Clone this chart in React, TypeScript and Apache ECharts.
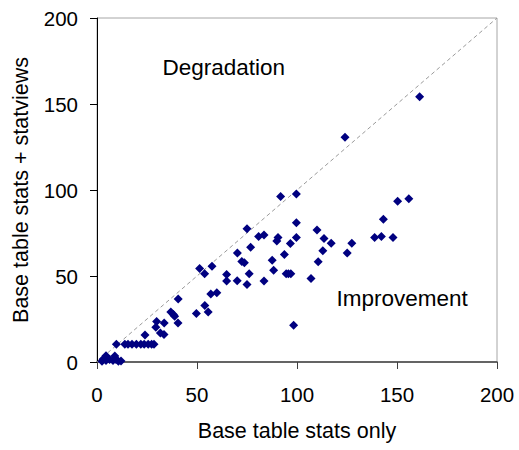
import React, { useEffect, useRef } from "react";
import * as echarts from "echarts";

// Query cost with base table statistics only (x) versus with statviews added (y)
const baseOnly = [
  161.3, 124.0, 91.8, 99.7, 150.3, 155.9, 99.7, 143.2, 75.0, 110.0,
  80.8, 83.5, 90.5, 89.9, 99.7, 96.7, 113.5, 117.1, 112.9, 127.4,
  125.1, 138.8, 142.2, 148.0, 76.8, 70.2, 72.4, 73.7, 87.6, 93.7,
  110.6, 88.3, 64.8, 76.1, 94.6, 95.7, 96.9, 51.3, 53.8, 57.5,
  64.8, 70.1, 75.0, 83.5, 107.0, 56.9, 59.9, 40.6, 53.9, 55.6,
  49.7, 36.9, 38.2, 38.8, 40.5, 33.6, 29.8, 29.4, 31.7, 33.5,
  24.0, 98.3, 9.7, 13.9, 15.5, 17.5, 19.7, 21.9, 23.6, 25.6,
  27.3, 28.5, 2.5, 3.0, 4.5, 4.5, 6.3, 8.0, 8.9, 9.5,
  10.7, 12.0,
];
const withStatviews = [
  154.2, 130.6, 96.2, 97.7, 93.5, 94.9, 81.0, 83.0, 77.4, 76.7,
  73.0, 73.8, 72.4, 70.4, 72.4, 68.9, 71.8, 69.0, 64.7, 69.0,
  63.3, 72.4, 72.9, 72.4, 66.7, 63.3, 58.4, 57.7, 59.2, 62.5,
  58.3, 53.4, 50.8, 51.3, 51.3, 51.3, 51.3, 54.3, 51.3, 55.6,
  47.1, 47.2, 45.1, 47.1, 48.5, 39.5, 40.2, 36.6, 32.9, 29.0,
  28.2, 29.0, 27.6, 26.6, 22.7, 22.7, 23.6, 20.2, 16.9, 16.0,
  15.7, 21.3, 10.3, 10.3, 10.3, 10.3, 10.3, 10.3, 10.3, 10.3,
  10.3, 10.3, 0.5, 1.6, 3.6, 0.8, 1.5, 0.8, 3.5, 1.5,
  0.5, 0.6,
];

// Reference line y = x
const parityLine = [0, 200];

// Region annotations
const noteNames = ["Degradation", "Improvement"];
const noteX = [63.4, 152.6];
const noteY = [171, 37.2];

const axisTicks = { min: 0, max: 200, interval: 50 };
const FONT = 'Arial, "Liberation Sans", sans-serif';

export default function App() {
  const ref = useRef<HTMLDivElement>(null);

  useEffect(() => {
    if (!ref.current) return;
    const chart = echarts.init(ref.current, null, { renderer: "svg" });
    chart.setOption({
      animation: false,
      backgroundColor: "#ffffff",
      grid: {
        left: 97,
        right: 22,
        top: 18,
        bottom: 88,
        show: true,
        borderColor: "#a6a6a6",
        borderWidth: 1,
      },
      xAxis: {
        type: "value",
        ...axisTicks,
        name: "Base table stats only",
        nameLocation: "middle",
        nameGap: 58,
        nameTextStyle: { fontFamily: FONT, fontSize: 21.5, color: "#000" },
        axisLine: { show: true, lineStyle: { color: "#404040", width: 1.5 } },
        axisTick: { show: true, length: 7, lineStyle: { color: "#404040" } },
        axisLabel: { fontFamily: FONT, fontSize: 20.5, color: "#000", margin: 22 },
        splitLine: { show: false },
      },
      yAxis: {
        type: "value",
        ...axisTicks,
        name: "Base table stats + statviews",
        nameLocation: "middle",
        nameRotate: 90,
        nameGap: 65,
        nameTextStyle: { fontFamily: FONT, fontSize: 21.5, color: "#000" },
        axisLine: { show: true, lineStyle: { color: "#000", width: 1 } },
        axisTick: { show: true, length: 7, lineStyle: { color: "#000" } },
        axisLabel: { fontFamily: FONT, fontSize: 20.5, color: "#000", margin: 19 },
        splitLine: { show: false },
      },
      series: [
        {
          type: "line",
          data: parityLine.map((v) => [v, v]),
          symbol: "none",
          silent: true,
          lineStyle: { color: "#9a9a9a", width: 1, type: [4, 3] },
          z: 1,
        },
        {
          type: "scatter",
          data: baseOnly.map((x, i) => [x, withStatviews[i]]),
          symbol: "diamond",
          symbolSize: 9,
          itemStyle: { color: "#000080", opacity: 1 },
          z: 3,
        },
        {
          type: "scatter",
          data: noteNames.map((n, i) => ({ name: n, value: [noteX[i], noteY[i]] })),
          symbolSize: 0,
          silent: true,
          label: {
            show: true,
            position: "inside",
            formatter: "{b}",
            fontFamily: FONT,
            fontSize: 22.5,
            color: "#000000",
            textBorderWidth: 0,
            opacity: 1,
          },
          z: 2,
        },
      ],
    });
    return () => chart.dispose();
  }, []);

  return <div ref={ref} style={{ width: 519, height: 450, position: "absolute", left: 0, top: 0 }} />;
}
